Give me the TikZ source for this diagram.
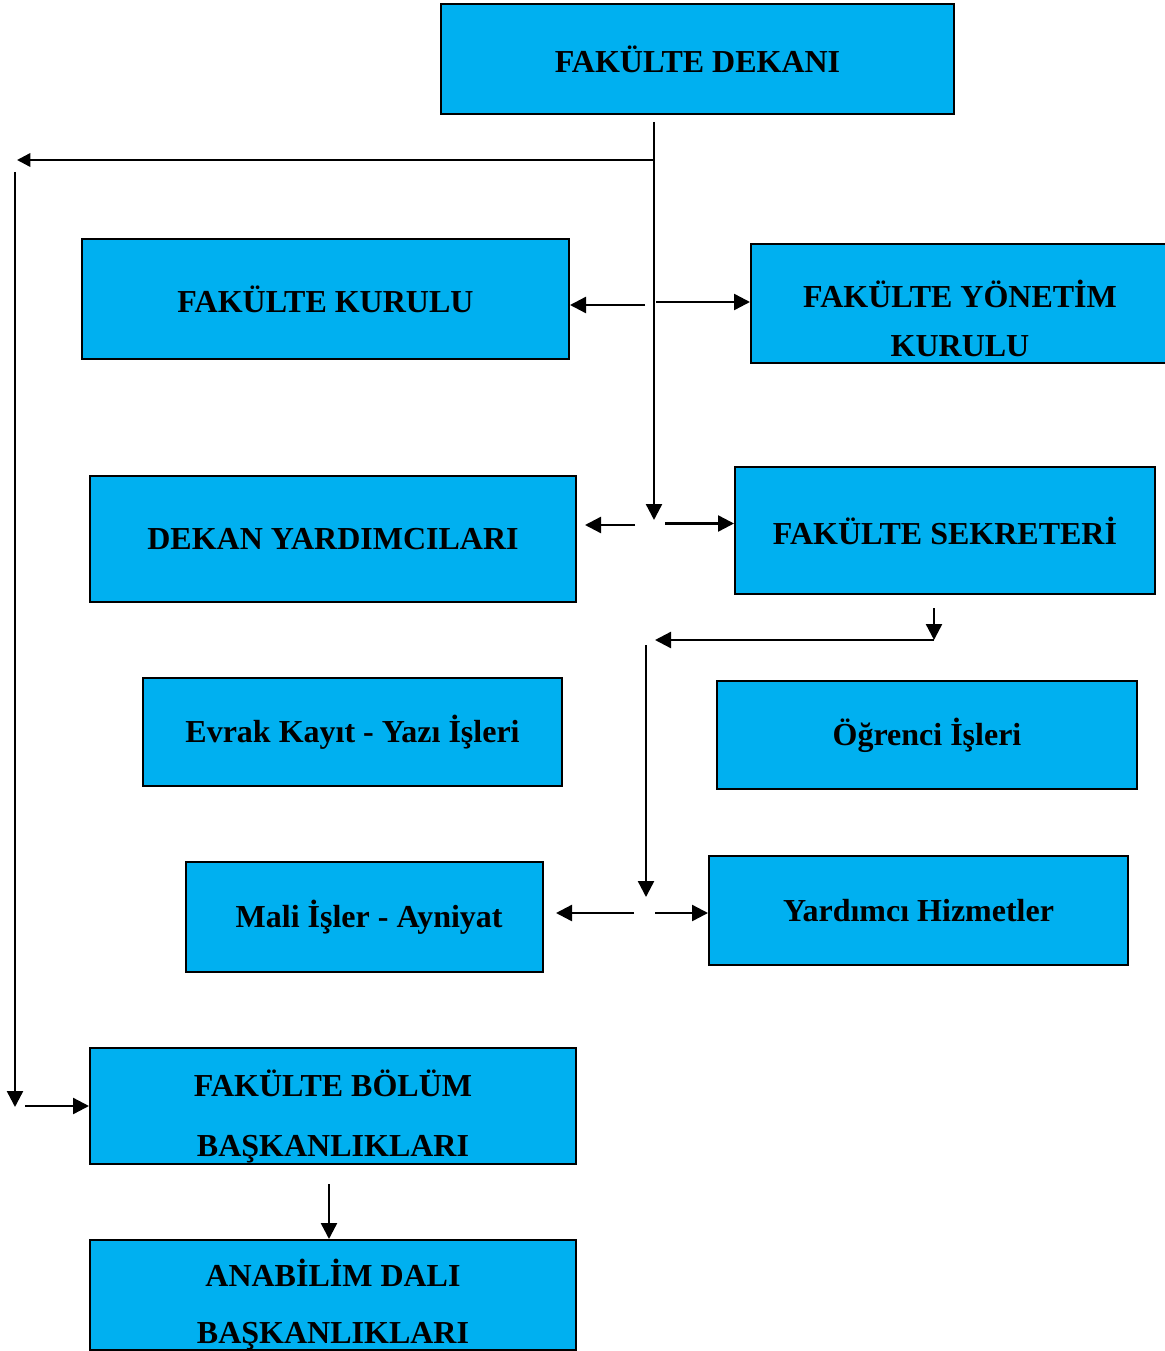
\documentclass[tikz,border=0pt]{standalone}
\usepackage{fontspec}
\setmainfont{Liberation Serif}
\usetikzlibrary{arrows.meta}
\definecolor{kutumavi}{RGB}{0,176,240}
\tikzset{
  kutu/.style={draw=black, line width=1.5pt, fill=kutumavi, inner sep=0pt, align=center,
    font=\fontsize{24}{28}\selectfont\bfseries},
  yazi/.style={inner sep=0pt, align=center},
  ok/.style={line width=1.8pt, -{Triangle[length=12pt,width=12pt]}},
}
\begin{document}
\begin{tikzpicture}[x=0.75pt,y=0.75pt,yscale=-1,xscale=1]
\useasboundingbox (0,0) rectangle (1164,1351);

% Kutular
\node[kutu, minimum width=384.75pt, minimum height=82.5pt] (dekan) at (697.5,59) {FAKÜLTE DEKANI};
\node[kutu, minimum width=365.25pt, minimum height=90pt] (kurulu) at (325.5,299) {FAKÜLTE KURULU};
\node[kutu, minimum width=318pt, minimum height=89.25pt] (yonetim) at (963,303.5) {};
\node[kutu, minimum width=364.5pt, minimum height=94.5pt] (yardimci) at (333,539) {DEKAN YARDIMCILARI};
\node[kutu, minimum width=315pt, minimum height=95.25pt] (sekreter) at (945,530.5) {FAKÜLTE SEKRETERİ};
\node[kutu, minimum width=314.25pt, minimum height=81pt] (evrak) at (352.5,732) {Evrak Kayıt - Yazı İşleri};
\node[kutu, minimum width=315pt, minimum height=81pt] (ogrenci) at (927,735) {Öğrenci İşleri};
\node[kutu, minimum width=267.75pt, minimum height=82.5pt] (mali) at (364.5,917) {\hspace*{7pt}Mali İşler - Ayniyat};
\node[kutu, minimum width=314.25pt, minimum height=81.75pt] (hizmet) at (918.5,910.5) {Yardımcı Hizmetler};
\node[kutu, minimum width=364.5pt, minimum height=87pt] (bolum) at (333,1106) {};
\node[kutu, minimum width=364.5pt, minimum height=82.5pt] (anabilim) at (333,1295) {};

% Text Node
\node[yazi, font=\fontsize{24}{37}\selectfont\bfseries] (yonetimT) at (960,318.5) {FAKÜLTE YÖNETİM\\KURULU};
% Text Node
\node[yazi, font=\fontsize{24}{45}\selectfont\bfseries] (bolumT) at (333,1116) {FAKÜLTE BÖLÜM\\BAŞKANLIKLARI};
% Text Node
\node[yazi, font=\fontsize{24}{43}\selectfont\bfseries] (anabilimT) at (333,1304.5) {ANABİLİM DALI\\BAŞKANLIKLARI};

% Serbest uclar
\coordinate (a0) at (654,122);
\coordinate (a1) at (654,520);
\coordinate (a2) at (654,160);
\coordinate (a3) at (17,160);
\coordinate (b0) at (15,172);
\coordinate (b1) at (15,1107);
\coordinate (b2) at (25,1106);
\coordinate (k0) at (645,305);
\coordinate (k1) at (656,302);
\coordinate (y0) at (635,525);
\coordinate (y1) at (585,525);
\coordinate (y2) at (665,523.5);
\coordinate (s0) at (934,608);
\coordinate (s1) at (934,640);
\coordinate (s2) at (655,640);
\coordinate (m0) at (646,645);
\coordinate (m1) at (646,897);
\coordinate (m2) at (634,913);
\coordinate (m3) at (556,913);
\coordinate (m4) at (655,913);
\coordinate (e0) at (329,1184);

% Oklar
\draw[ok] (a0) -- (a1);
\draw[ok, -{Triangle[length=10pt,width=10pt]}] (a2) -- (a3);
\draw[ok] (b0) -- (b1);
\draw[ok] (b2) -- (bolum.west);
\draw[ok] (k0) -- (kurulu.east |- k0);
\draw[ok] (k1) -- (yonetim.west |- k1);
\draw[ok] (y0) -- (y1);
\draw[ok] (y2) -- (sekreter.west |- y2);
\draw[ok] (s0) -- (s1);
\draw[ok] (s1) -- (s2);
\draw[ok] (m0) -- (m1);
\draw[ok] (m2) -- (m3);
\draw[ok] (m4) -- (hizmet.west |- m4);
\draw[ok] (e0) -- (e0 |- anabilim.north);

\end{tikzpicture}
\end{document}
